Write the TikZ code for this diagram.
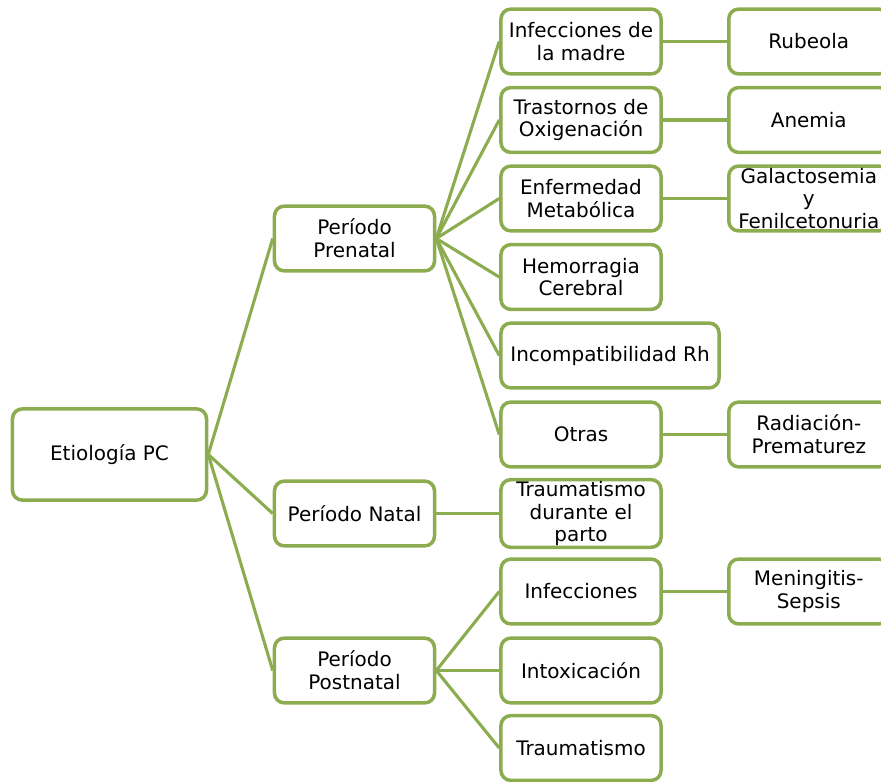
\documentclass[tikz,border=0pt]{standalone}
\usepackage{fontspec}
\setmainfont{DejaVu Sans}
\usetikzlibrary{
    positioning % For relative placement
}
\definecolor{leafgreen}{RGB}{140,172,80}

\begin{document}
\begin{tikzpicture}[
    x=0.025cm, y=-0.025cm, % one unit = one pixel of the reference
    box/.style={draw=leafgreen, line width=2.5pt, fill=white, rounded corners=7pt,
        align=center, inner sep=1pt, minimum height=1.62cm, text=black,
        font=\fontsize{14.2}{16.2}\selectfont},
    rootbox/.style={box, minimum width=4.85cm, minimum height=2.28cm},
    midbox/.style={box, minimum width=4cm},
    leafbox/.style={box, minimum width=4cm},
    link/.style={leafgreen, line width=2.2pt}
]
    \useasboundingbox (0,0) rectangle (881,782);
    \clip (0,0) rectangle (881,782);

    % Root
    \node[rootbox] (root) at (109.5,454.5) {Etiología PC};

    % Periods
    \node[midbox] (prenatal)  at (354.5,238.5) {Período\\Prenatal};
    \node[midbox] (natal)     at (354.5,513.5) {Período Natal};
    \node[midbox] (postnatal) at (354.5,670.5) {Período\\Postnatal};

    % Causes
    \node[midbox] (madre)    at (581,41.5)  {Infecciones de\\la madre};
    \node[midbox] (oxigeno)  at (581,120)   {Trastornos de\\Oxigenación};
    \node[midbox] (metabol)  at (581,198.5) {Enfermedad\\Metabólica};
    \node[midbox] (hemorrag) at (581,277)   {Hemorragia\\Cerebral};
    \node[box, minimum width=5.45cm] (rh) at (610,355.5) {Incompatibilidad Rh};
    \node[midbox] (otras)    at (581,434.5) {Otras};
    \node[midbox] (parto)    at (581,513.5) {Traumatismo\\durante el\\parto};
    \node[midbox] (infec)    at (581,591.5) {Infecciones};
    \node[midbox] (intox)    at (581,670.5) {Intoxicación};
    \node[midbox] (trauma)   at (581,748)   {Traumatismo};

    % Examples (cut at the right edge)
    \node[leafbox, anchor=west] (rubeola)   at (727,41.5)  {Rubeola};
    \node[leafbox, anchor=west] (anemia)    at (727,120)   {Anemia};
    \node[leafbox, anchor=west] (galacto)   at (727,198.5) {Galactosemia\\y\\Fenilcetonuria};
    \node[leafbox, anchor=west] (radiacion) at (727,434.5) {Radiación-\\Prematurez};
    \node[leafbox, anchor=west] (mening)    at (727,591.5) {Meningitis-\\Sepsis};

    % Links
    \foreach \p in {prenatal,natal,postnatal}
        \draw[link] (root.east) -- (\p.west);
    \foreach \c in {madre,oxigeno,metabol,hemorrag,rh,otras}
        \draw[link] (prenatal.east) -- (\c.west);
    \draw[link] (natal.east) -- (parto.west);
    \foreach \c in {infec,intox,trauma}
        \draw[link] (postnatal.east) -- (\c.west);
    \draw[link] (madre.east) -- (rubeola.west);
    \draw[link] (oxigeno.east) -- (anemia.west);
    \draw[link] (metabol.east) -- (galacto.west);
    \draw[link] (otras.east) -- (radiacion.west);
    \draw[link] (infec.east) -- (mening.west);

\end{tikzpicture}
\end{document}
